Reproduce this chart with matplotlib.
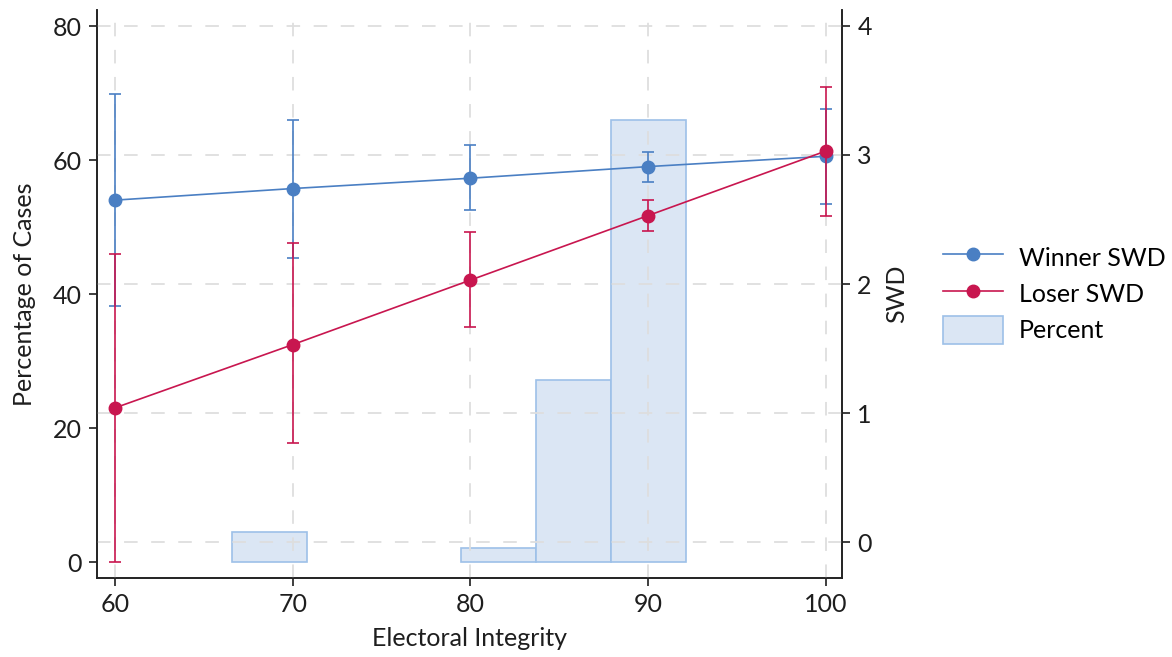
import matplotlib
matplotlib.use("Agg")
import matplotlib.pyplot as plt
from matplotlib.patches import Patch
from matplotlib.lines import Line2D

plt.rcParams['font.family'] = ['Lato', 'DejaVu Sans']

# Data
integrity = [60, 70, 80, 90, 100]
winner_swd = [2.65, 2.74, 2.82, 2.91, 2.99]
winner_lo = [1.83, 2.20, 2.57, 2.79, 2.62]
winner_hi = [3.47, 3.27, 3.08, 3.02, 3.36]
loser_swd = [1.04, 1.53, 2.03, 2.53, 3.03]
loser_lo = [-0.155, 0.77, 1.67, 2.41, 2.53]
loser_hi = [2.23, 2.32, 2.40, 2.65, 3.53]

bin_left = [66.6, 79.5, 83.72, 87.94]
bin_width = 4.22
percent = [4.5, 2.1, 27.2, 66.0]

blue = '#4a7fc3'
red = '#c8164f'
bar_fill = '#dbe6f4'
bar_edge = '#9dc0e8'
grid_c = '#dedede'
txt = '#1e1e1e'

fig = plt.figure(figsize=(11.72, 6.57), dpi=100)
ax = fig.add_axes([0.0828, 0.1202, 0.7184 - 0.0828, 0.9848 - 0.1202])
ax2 = ax.twinx()

ax.bar(bin_left, percent, width=bin_width, align='edge', color=bar_fill,
       edgecolor=bar_edge, linewidth=1.2, zorder=1)
ax.set_xlim(58.99, 100.92)
ax.set_ylim(-2.39, 82.4)
ax.set_yticks([0, 20, 40, 60, 80])
ax.set_xticks([60, 70, 80, 90, 100])

ax2.set_ylim(-0.279, 4.124)
ax2.set_yticks([0, 1, 2, 3, 4])
ax2.set_zorder(2)
ax2.patch.set_visible(False)

# grid on ax2 (horizontal at SWD ticks) and vertical at x ticks
for yv in [0, 1, 2, 3, 4]:
    ax2.axhline(yv, color=grid_c, lw=1.3, ls=(0, (7.5, 7.5)), zorder=0)
for xv in [60, 70, 80, 90, 100]:
    ax2.axvline(xv, color=grid_c, lw=1.3, ls=(0, (7.5, 7.5)), zorder=0)

def err(vals, lo, hi):
    return [[v - l for v, l in zip(vals, lo)], [h - v for v, h in zip(vals, hi)]]

ax2.errorbar(integrity, winner_swd, yerr=err(winner_swd, winner_lo, winner_hi),
             color=blue, lw=1.2, marker='o', ms=9, capsize=4, capthick=1.2,
             elinewidth=1.2, zorder=3)
ax2.errorbar(integrity, loser_swd, yerr=err(loser_swd, loser_lo, loser_hi),
             color=red, lw=1.2, marker='o', ms=9, capsize=4, capthick=1.2,
             elinewidth=1.2, zorder=4)

for a in (ax, ax2):
    a.spines['top'].set_visible(False)
    for s in a.spines.values():
        s.set_linewidth(1.2)
        s.set_color('#222222')
    a.tick_params(axis='both', direction='out', length=6, width=1.2,
                  labelsize=18, colors=txt, pad=5)

ax.set_xlabel('Electoral Integrity', fontsize=18, color=txt, labelpad=8)
ax.set_ylabel('Percentage of Cases', fontsize=18, color=txt, labelpad=12)
ax2.set_ylabel('SWD', fontsize=18, color=txt, labelpad=10)

handles = [
    Line2D([0], [0], color=blue, lw=1.2, marker='o', ms=9),
    Line2D([0], [0], color=red, lw=1.2, marker='o', ms=9),
    Patch(facecolor=bar_fill, edgecolor=bar_edge, linewidth=1.2),
]
fig.legend(handles, ['Winner SWD', 'Loser SWD', 'Percent'],
           loc='center left', bbox_to_anchor=(0.796, 0.553),
           borderaxespad=0, frameon=False, fontsize=18,
           handlelength=2.4, handleheight=1.4,
           labelspacing=0.3, handletextpad=0.65)

fig.savefig('out.png', dpi=100)
